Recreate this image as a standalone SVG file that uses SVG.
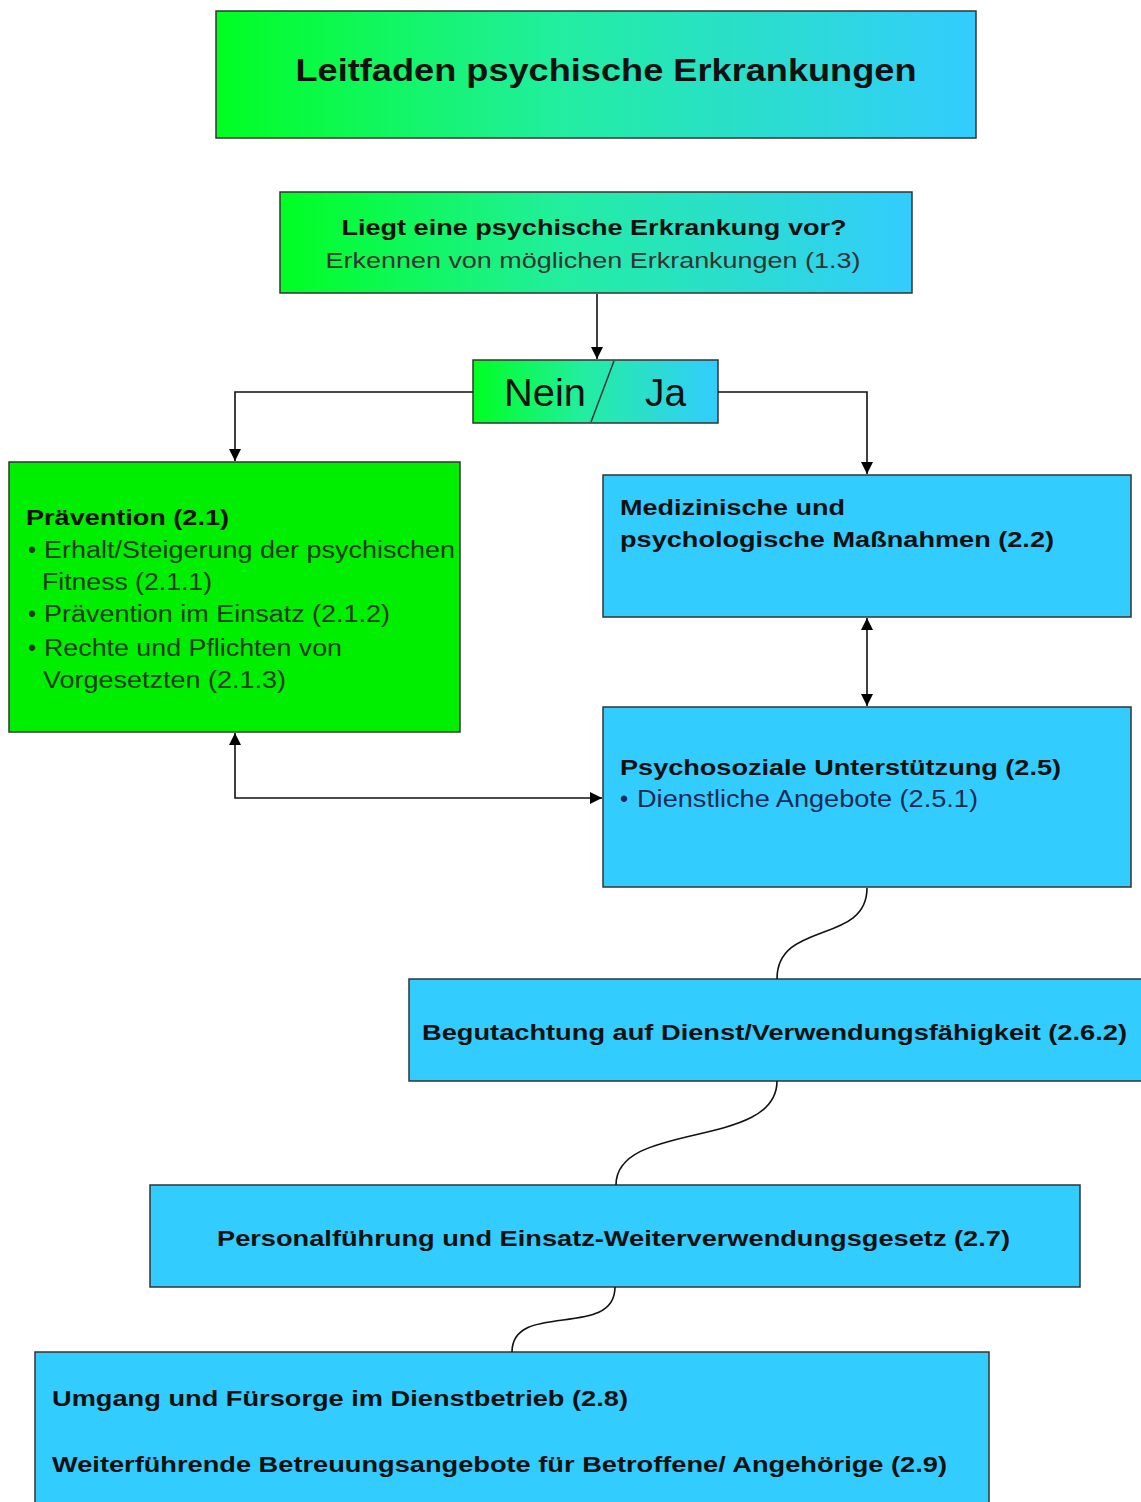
<svg xmlns="http://www.w3.org/2000/svg" width="1141" height="1502" viewBox="0 0 1141 1502">
<defs>
<linearGradient id="g" x1="0" y1="0" x2="1" y2="0">
<stop offset="0" stop-color="#00ff22"/>
<stop offset="0.45" stop-color="#22eea0"/>
<stop offset="1" stop-color="#33ccff"/>
</linearGradient>
<marker id="ah" viewBox="0 0 10 10" refX="10" refY="5" markerWidth="12" markerHeight="12" markerUnits="userSpaceOnUse" orient="auto-start-reverse">
<path d="M0,0 L10,5 L0,10 z" fill="#000"/>
</marker>
<style>
.box{stroke:#333;stroke-width:1.5}
.grad{fill:url(#g)}
.blue{fill:#33ccff}
.green{fill:#00ee00}
.b{font-family:"Liberation Sans",Arial,sans-serif;font-weight:bold;fill:#111}
.r{font-family:"Liberation Sans",Arial,sans-serif;fill:#333}
.con{fill:none;stroke:#111;stroke-width:1.6}
</style>
</defs>
<rect width="1141" height="1502" fill="#fff"/>
<g id="title">
<rect class="box grad" x="216" y="11" width="760" height="127"/>
<text class="b" x="606" y="81" font-size="32" text-anchor="middle" textLength="621" lengthAdjust="spacingAndGlyphs">Leitfaden psychische Erkrankungen</text>
</g>
<g id="question">
<rect class="box grad" x="280" y="192" width="632" height="101"/>
<text class="b" x="594" y="235" font-size="22" text-anchor="middle" textLength="505" lengthAdjust="spacingAndGlyphs">Liegt eine psychische Erkrankung vor?</text>
<text class="r" x="593" y="268" font-size="22" text-anchor="middle" textLength="535" lengthAdjust="spacingAndGlyphs">Erkennen von möglichen Erkrankungen (1.3)</text>
</g>
<g id="decision">
<rect class="box grad" x="473" y="360" width="245" height="63"/>
<line x1="614" y1="361" x2="591" y2="422" stroke="#333" stroke-width="1.5"/>
<text class="r" x="504" y="406" font-size="38" fill="#111" style="fill:#111" textLength="82" lengthAdjust="spacingAndGlyphs">Nein</text>
<text class="r" x="645" y="406" font-size="38" style="fill:#111" textLength="41" lengthAdjust="spacingAndGlyphs">Ja</text>
</g>
<g id="praevention">
<rect class="box green" x="9" y="462" width="451" height="270"/>
<text class="b" x="26" y="525" font-size="22" textLength="203" lengthAdjust="spacingAndGlyphs">Prävention (2.1)</text>
<g class="r" font-size="23" style="fill:#1c3a1c">
<text x="28" y="558">•</text>
<text x="44" y="558" textLength="411" lengthAdjust="spacingAndGlyphs">Erhalt/Steigerung der psychischen</text>
<text x="42" y="590" textLength="170" lengthAdjust="spacingAndGlyphs">Fitness (2.1.1)</text>
<text x="28" y="622">•</text>
<text x="44" y="622" textLength="346" lengthAdjust="spacingAndGlyphs">Prävention im Einsatz (2.1.2)</text>
<text x="28" y="656">•</text>
<text x="44" y="656" textLength="298" lengthAdjust="spacingAndGlyphs">Rechte und Pflichten von</text>
<text x="43" y="688" textLength="243" lengthAdjust="spacingAndGlyphs">Vorgesetzten (2.1.3)</text>
</g>
</g>
<g id="medizinisch">
<rect class="box blue" x="603" y="475" width="528" height="142"/>
<text class="b" x="620" y="515" font-size="22" textLength="225" lengthAdjust="spacingAndGlyphs">Medizinische und</text>
<text class="b" x="620" y="547" font-size="22" textLength="434" lengthAdjust="spacingAndGlyphs">psychologische Maßnahmen (2.2)</text>
</g>
<g id="psychosozial">
<rect class="box blue" x="603" y="707" width="528" height="180"/>
<text class="b" x="620" y="775" font-size="22" textLength="441" lengthAdjust="spacingAndGlyphs">Psychosoziale Unterstützung (2.5)</text>
<text class="r" x="620" y="807" font-size="23" style="fill:#1a2a55">•</text>
<text class="r" x="637" y="807" font-size="23" style="fill:#1a2a55" textLength="341" lengthAdjust="spacingAndGlyphs">Dienstliche Angebote (2.5.1)</text>
</g>
<g id="begutachtung">
<rect class="box blue" x="409" y="979" width="740" height="102"/>
<text class="b" x="422" y="1040" font-size="22" textLength="705" lengthAdjust="spacingAndGlyphs">Begutachtung auf Dienst/Verwendungsfähigkeit (2.6.2)</text>
</g>
<g id="personal">
<rect class="box blue" x="150" y="1185" width="930" height="102"/>
<text class="b" x="217" y="1246" font-size="22" textLength="793" lengthAdjust="spacingAndGlyphs">Personalführung und Einsatz-Weiterverwendungsgesetz (2.7)</text>
</g>
<g id="umgang">
<rect class="box blue" x="35" y="1352" width="954" height="170"/>
<text class="b" x="52" y="1406" font-size="22" textLength="576" lengthAdjust="spacingAndGlyphs">Umgang und Fürsorge im Dienstbetrieb (2.8)</text>
<text class="b" x="52" y="1472" font-size="22" textLength="895" lengthAdjust="spacingAndGlyphs">Weiterführende Betreuungsangebote für Betroffene/ Angehörige (2.9)</text>
</g>
<g id="connectors">
<path class="con" d="M597,294 V359" marker-end="url(#ah)"/>
<path class="con" d="M473,392 H235 V461" marker-end="url(#ah)"/>
<path class="con" d="M718,392 H867 V474" marker-end="url(#ah)"/>
<path class="con" d="M867,618 V706" marker-start="url(#ah)" marker-end="url(#ah)"/>
<path class="con" d="M235,733 V798 H602" marker-start="url(#ah)" marker-end="url(#ah)"/>
<path class="con" stroke-width="1.2" d="M867,888 C867,945 777,920 777,979"/>
<path class="con" stroke-width="1.2" d="M777,1081 C777,1150 616,1120 616,1185"/>
<path class="con" stroke-width="1.2" d="M615,1287 C615,1340 512,1300 512,1352"/>
</g>
</svg>
